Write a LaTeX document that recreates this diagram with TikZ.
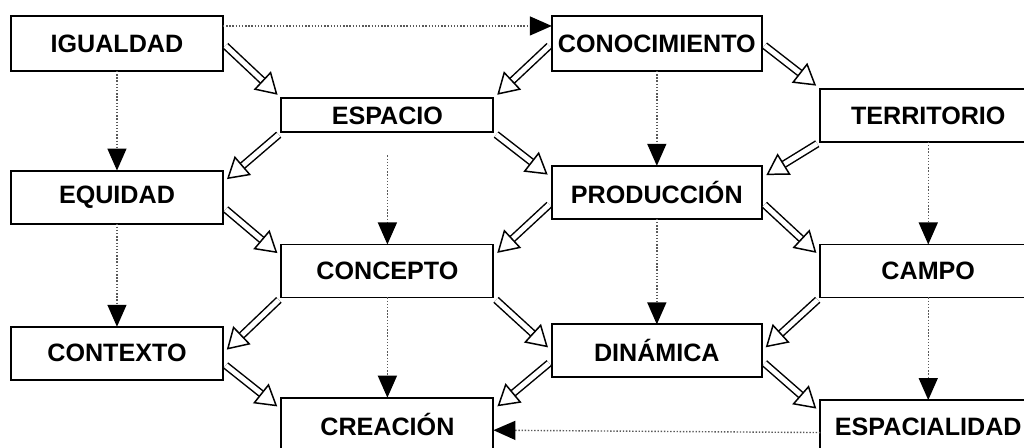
\documentclass[tikz,border=0pt]{standalone}
\usepackage{fontspec}
\setmainfont{Liberation Sans}
\usetikzlibrary{matrix, arrows.meta}

\tikzset{
  box/.style={draw, line width=1.1pt, minimum width=4.24cm, minimum height=1.06cm, inner sep=1pt,
    font=\fontsize{14.3}{17}\selectfont\bfseries},
  dotarr/.style={draw=black!65, densely dotted, line width=0.8pt,
    -{Triangle[length=0.44cm, width=0.38cm, black]}},
  hollow/.style={draw, double, double distance=2.8pt, line width=0.85pt, shorten <=2pt, shorten >=3pt,
    -{Triangle[open, length=0.42cm, width=0.5cm]}},
}

\begin{document}
\begin{tikzpicture}
  \useasboundingbox (0,0) rectangle (20.48,-8.96);
  \matrix (m) [matrix of nodes, nodes={box}, anchor=north west, inner sep=0pt, outer sep=0pt,
    row sep=0.32cm, column sep=1.13cm] at (0.2,-0.3)
  {
    |[minimum height=1.1cm] (igu)| IGUALDAD & & |[minimum height=1.1cm, minimum width=4.2cm] (con)| CONOCIMIENTO & \\
    & |[minimum height=0.68cm] (esp)| ESPACIO & & |[minimum width=4.32cm] (ter)| TERRITORIO \\[0.12cm]
    |(equ)| EQUIDAD & & |[minimum width=4.2cm] (pro)| PRODUCCIÓN & \\[0.06cm]
    & |(cpt)| CONCEPTO & & |[minimum width=4.32cm] (cam)| CAMPO \\[0.18cm]
    |(ctx)| CONTEXTO & & |[minimum width=4.2cm] (din)| DINÁMICA & \\[0.0cm]
    & |(cre)| CREACIÓN & & |[minimum width=4.32cm] (esd)| ESPACIALIDAD \\
  };

  % dotted links
  \path[every edge/.style={dotarr}]
    ([yshift=-0.2cm]igu.north east) edge ([yshift=-0.2cm]con.north west)
    (igu) edge (equ)
    (equ) edge (ctx)
    ([yshift=-0.46cm]esp.south) edge (cpt)
    (cpt) edge (cre)
    (con) edge (pro)
    (pro) edge (din)
    (ter) edge (cam)
    (cam) edge (esd)
    ([yshift=-0.12cm]esd.west) edge ([yshift=-0.12cm]cre.east)
    ;

  % hollow arrows
  \path[every edge/.style={hollow}]
    (igu.east) edge (esp.north west)
    (con.west) edge (esp.north east)
    (con.east) edge (ter.north west)

    (esp.south west) edge ([yshift=-0.24cm]equ.north east)
    (esp.south east) edge ([yshift=-0.24cm]pro.north west)
    (ter.south west) edge ([yshift=-0.24cm]pro.north east)

    ([yshift=-0.2cm]equ.east) edge ([yshift=-0.24cm]cpt.north west)
    ([yshift=-0.2cm]pro.west) edge ([yshift=-0.24cm]cpt.north east)
    ([yshift=-0.2cm]pro.east) edge ([yshift=-0.24cm]cam.north west)

    (cpt.south west) edge (ctx.east)
    (cpt.south east) edge (din.west)
    (cam.south west) edge (din.east)

    ([yshift=-0.2cm]ctx.east) edge ([yshift=-0.24cm]cre.north west)
    ([yshift=-0.2cm]din.west) edge ([yshift=-0.24cm]cre.north east)
    ([yshift=-0.2cm]din.east) edge ([yshift=-0.24cm]esd.north west)
    ;
\end{tikzpicture}
\end{document}
